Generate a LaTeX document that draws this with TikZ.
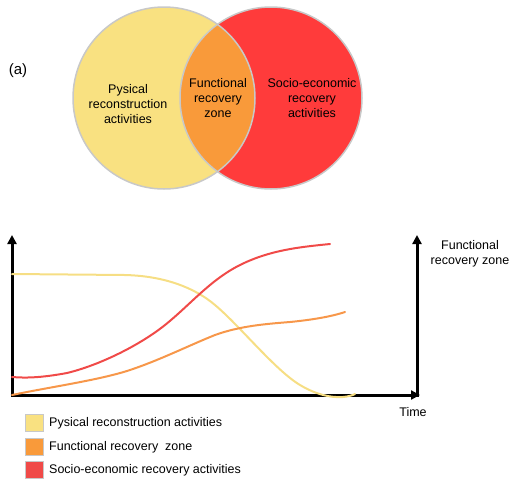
\documentclass[tikz,border=0pt]{standalone}
\usepackage{fontspec}
\setmainfont{Liberation Sans}
\usetikzlibrary{arrows.meta}
\definecolor{cyel}{HTML}{F9E181}
\definecolor{corg}{HTML}{F99A3A}
\definecolor{cred}{HTML}{FF3B3B}
\definecolor{cbord}{HTML}{C8C8C8}
\definecolor{lyel}{HTML}{F6DE84}
\definecolor{lorg}{HTML}{F7974A}
\definecolor{lred}{HTML}{F04A48}
\tikzset{
  txt/.style={font=\fontsize{12.5}{15}\selectfont, align=center, inner sep=0pt},
  axis/.style={line width=3pt, -{Triangle[length=9pt,width=9pt]}},
  crv/.style={line width=2pt, line cap=round},
  lbox/.style={draw=cbord, line width=0.6pt, minimum width=18pt, minimum height=17pt, inner sep=0pt},
  ltxt/.style={font=\fontsize{12.5}{15}\selectfont, anchor=west, inner sep=0pt}
}
\begin{document}
\begin{tikzpicture}[x=1pt,y=-1pt]
\useasboundingbox (0,0) rectangle (509,480);
% Venn
\fill[cyel] (164,98) circle (91);
\fill[cred] (271,98) circle (91);
\begin{scope}
\clip (164,98) circle (91);
\fill[corg] (271,98) circle (91);
\end{scope}
\draw[cbord, line width=1.5pt] (164,98) circle (91);
\draw[cbord, line width=1.5pt] (271,98) circle (91);
\node[txt, font=\fontsize{15}{18}\selectfont] (a) at (18,71) {(a)};
\node[txt] (phys) at (128,104) {Pysical\\reconstruction\\activities};
\node[txt] (func) at (218,98) {Functional\\recovery\\zone};
\node[txt] (socio) at (312,98) {Socio-economic\\recovery\\activities};
% axes
\coordinate (o) at (12,395);
\coordinate (ytop) at (12,235);
\coordinate (xend) at (420,395);
\coordinate (r0) at (417,396.5);
\coordinate (rtop) at (417,235);
\draw[axis] (o) -- (ytop);
\draw[axis, -] ([xshift=-1.5pt]o) -- (o);
\draw[axis] (o) -- (xend);
\draw[axis] (r0) -- (rtop);
\node[txt] (frz) at (470,254) {Functional\\recovery zone};
\node[txt] (time) at (413,412) {Time};
% curves
\draw[crv, lyel] (12,274) -- (125,275) .. controls (165,276) and (195,288) .. (215,305)
  .. controls (240,326) and (275,370) .. (300,385)
  .. controls (315,394) and (330,398) .. (343,397) .. controls (349,396.5) and (353,395) .. (355,394);
\draw[crv, lred] (12,377) .. controls (25,378) and (40,378) .. (67,373)
  .. controls (100,365) and (140,345) .. (165,325)
  .. controls (190,305) and (210,280) .. (240,265)
  .. controls (270,250) and (300,247) .. (330,244);
\draw[crv, lorg] (12,395) .. controls (50,387) and (100,380) .. (130,370)
  .. controls (160,360) and (190,345) .. (215,335)
  .. controls (240,326) and (265,324) .. (290,322)
  .. controls (310,320) and (330,317) .. (345,312);
% legend
\node[lbox, fill=cyel] (l1) at (34,423) {};
\node[lbox, fill=corg] (l2) at (34,447) {};
\node[lbox, fill=lred] (l3) at (34,470) {};
\node[ltxt] (t1) at (49,423) {Pysical reconstruction activities};
\node[ltxt] (t2) at (49,447) {Functional recovery\ \ zone};
\node[ltxt] (t3) at (49,470) {Socio-economic recovery activities};
\end{tikzpicture}
\end{document}
